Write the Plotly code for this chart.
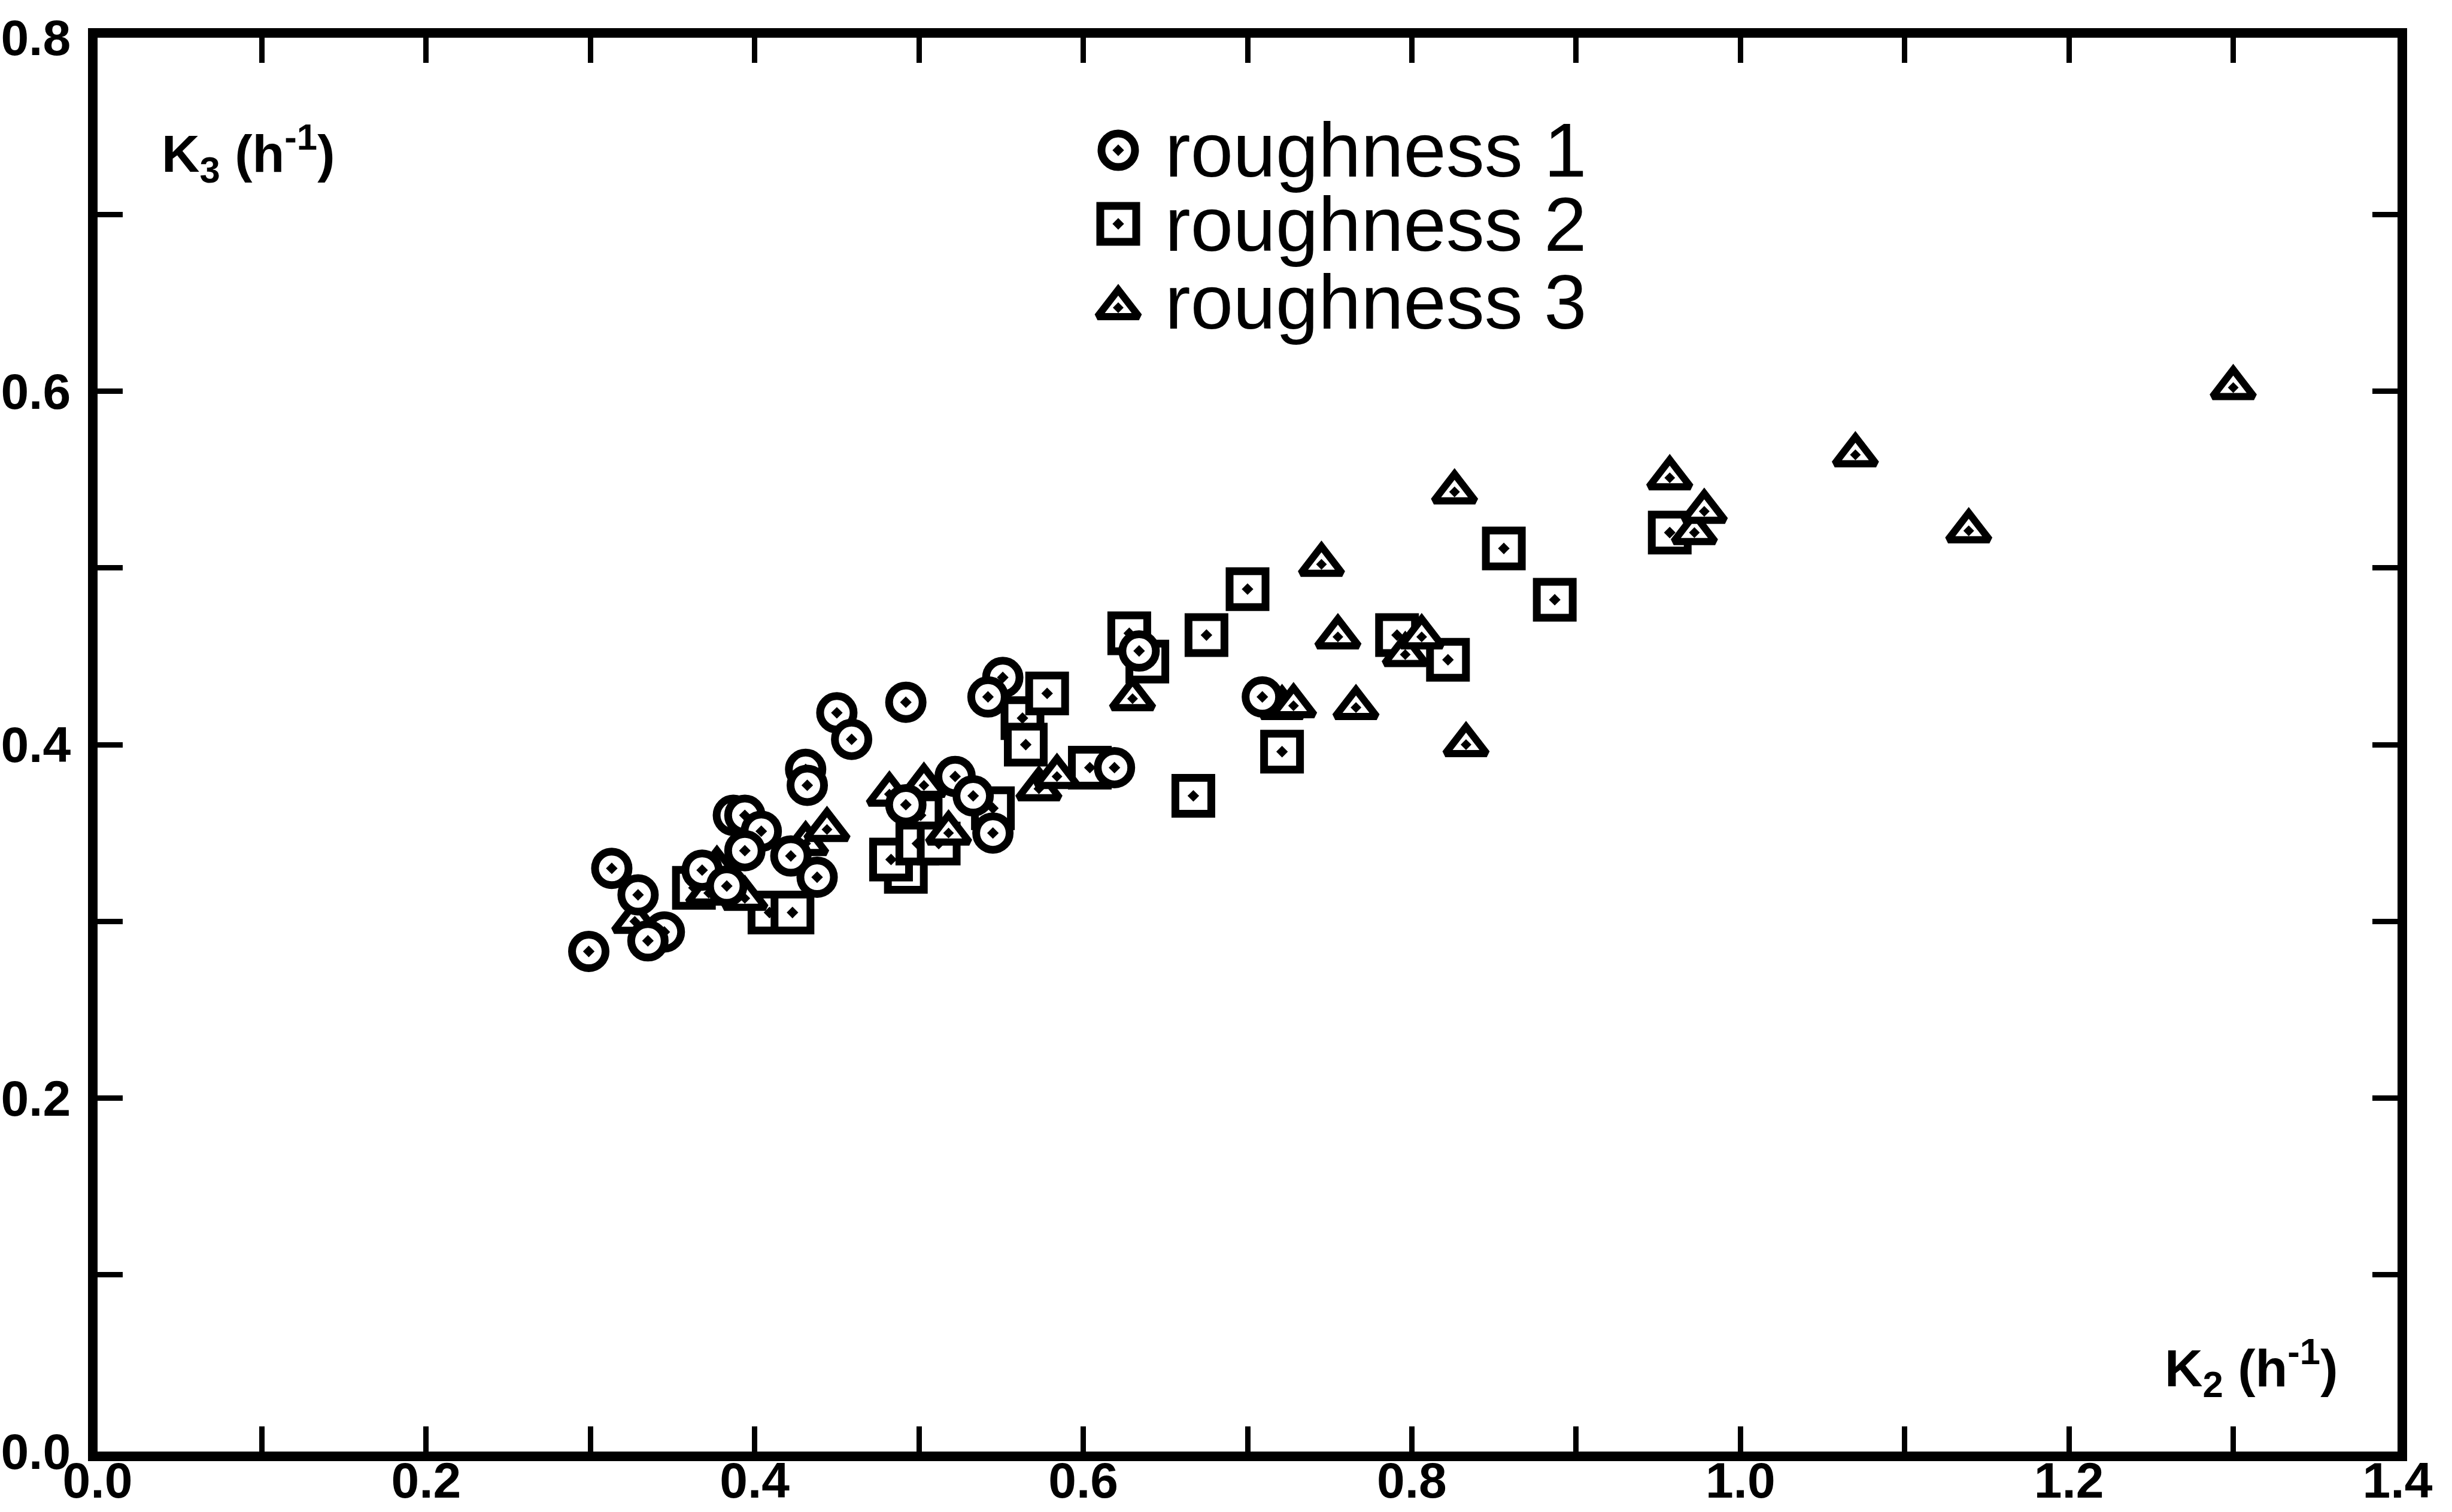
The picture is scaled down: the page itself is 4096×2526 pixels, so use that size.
import plotly.graph_objects as go

# ---------------- data ----------------
series_names = ["roughness 1", "roughness 2", "roughness 3"]

k2_r1 = [0.299, 0.313, 0.329, 0.345, 0.335, 0.368, 0.383, 0.387, 0.394, 0.404,
         0.394, 0.422, 0.438, 0.431, 0.432, 0.450, 0.459, 0.492, 0.492, 0.522,
         0.533, 0.545, 0.551, 0.542, 0.619, 0.634, 0.709]
k3_r1 = [0.283, 0.330, 0.315, 0.294, 0.289, 0.329, 0.320, 0.360, 0.360, 0.351,
         0.340, 0.337, 0.325, 0.386, 0.377, 0.418, 0.403, 0.424, 0.366, 0.382,
         0.371, 0.350, 0.438, 0.427, 0.387, 0.453, 0.427]

k2_r2 = [0.363, 0.409, 0.423, 0.492, 0.483, 0.501, 0.499, 0.512, 0.545, 0.563,
         0.565, 0.578, 0.604, 0.628, 0.639, 0.667, 0.675, 0.700, 0.721, 0.791,
         0.822, 0.856, 0.887, 0.957]
k3_r2 = [0.319, 0.305, 0.305, 0.328, 0.335, 0.360, 0.344, 0.344, 0.364, 0.415,
         0.400, 0.429, 0.387, 0.463, 0.447, 0.371, 0.462, 0.488, 0.396, 0.462,
         0.448, 0.511, 0.482, 0.520]

k2_r3 = [0.327, 0.372, 0.377, 0.394, 0.431, 0.444, 0.482, 0.503, 0.518, 0.573,
         0.584, 0.630, 0.721, 0.728, 0.745, 0.755, 0.766, 0.796, 0.806, 0.826,
         0.833, 0.957, 0.972, 0.978, 1.070, 1.139, 1.300]
k3_r3 = [0.300, 0.316, 0.330, 0.313, 0.344, 0.352, 0.372, 0.377, 0.350, 0.375,
         0.382, 0.426, 0.421, 0.422, 0.502, 0.461, 0.421, 0.451, 0.461, 0.543,
         0.400, 0.551, 0.520, 0.532, 0.564, 0.521, 0.602]

x_major_vals = [0.0, 0.2, 0.4, 0.6, 0.8, 1.0, 1.2, 1.4]
x_major_text = ["0.0", "0.2", "0.4", "0.6", "0.8", "1.0", "1.2", "1.4"]
x_minor_vals = [0.1, 0.3, 0.5, 0.7, 0.9, 1.1, 1.3]
y_major_vals = [0.0, 0.2, 0.4, 0.6, 0.8]
y_major_text = ["0.0", "0.2", "0.4", "0.6", "0.8"]
y_minor_vals = [0.1, 0.3, 0.5, 0.7]

x_title = "K<sub>2</sub> (h<sup>-1</sup>)"
y_title = "K<sub>3</sub> (h<sup>-1</sup>)"

# ---------------- styling ----------------
W, H = 4096, 2526
ML, MR, MT, MB = 163, 91, 63, 101
TICK_FONT = dict(family="Liberation Sans, Arial", size=84, color="black", weight="bold")
LABEL_FONT = dict(family="Liberation Sans, Arial", size=88, color="black", weight="bold")
LEGEND_FONT = dict(family="Liberation Sans, Arial, Helvetica", size=128, color="black")

styles = {
    "roughness 1": dict(symbol="circle-dot", size=56, lw=13),
    "roughness 2": dict(symbol="square-dot", size=60, lw=13),
    "roughness 3": dict(symbol="triangle-up-dot", size=60, lw=12),
}

def marker(name):
    s = styles[name]
    return dict(symbol=s["symbol"], size=s["size"], color="white",
                line=dict(color="black", width=s["lw"]))

fig = go.Figure()
# draw order: squares, triangles, circles (circles lie on top in the reference)
fig.add_trace(go.Scatter(x=k2_r2, y=k3_r2, mode="markers", name=series_names[1],
                         marker=marker(series_names[1]), showlegend=False, cliponaxis=False))
fig.add_trace(go.Scatter(x=k2_r3, y=k3_r3, mode="markers", name=series_names[2],
                         marker=marker(series_names[2]), showlegend=False, cliponaxis=False))
fig.add_trace(go.Scatter(x=k2_r1, y=k3_r1, mode="markers", name=series_names[0],
                         marker=marker(series_names[0]), showlegend=False, cliponaxis=False))

# ---------------- hand-made legend (overlay axes spanning the frame) ----------------
def py(px):  # pixel row -> paper fraction
    return (H - MB - px) / (H - MB - MT)

def pxx(px):  # pixel column -> paper fraction
    return (px - ML) / (W - ML - MR)

legend_key_x = pxx(1868)
legend_rows = [py(251), py(374), py(514)]
legend_text_rows = [py(251), py(374), py(504)]
for i, name in enumerate(series_names):
    fig.add_trace(go.Scatter(x=[legend_key_x], y=[legend_rows[i]], mode="markers",
                             marker=marker(name), xaxis="x2", yaxis="y2",
                             showlegend=False, cliponaxis=False, hoverinfo="skip"))
    fig.add_annotation(x=pxx(1944), y=legend_text_rows[i], xref="paper", yref="paper",
                       text=name, showarrow=False, xanchor="left", yanchor="middle",
                       font=LEGEND_FONT)

# axis titles, written inside the frame as in the reference
fig.add_annotation(x=pxx(268), y=py(256), xref="paper", yref="paper", text=y_title,
                   showarrow=False, xanchor="left", yanchor="middle", font=LABEL_FONT)
fig.add_annotation(x=pxx(3614), y=py(2285), xref="paper", yref="paper", text=x_title,
                   showarrow=False, xanchor="left", yanchor="middle", font=LABEL_FONT)

axis_common = dict(showline=True, linewidth=16, linecolor="black", mirror="ticks",
                   ticks="inside", ticklen=42, tickwidth=9, tickcolor="black",
                   showgrid=False, zeroline=False, tickfont=TICK_FONT, tickmode="array",
                   automargin=False)
minor_common = dict(ticks="inside", ticklen=42, tickwidth=9, tickcolor="black",
                    showgrid=False, tickmode="array")

fig.update_layout(
    width=W, height=H,
    margin=dict(l=ML, r=MR, t=MT, b=MB, pad=0, autoexpand=False),
    paper_bgcolor="white", plot_bgcolor="white",
    xaxis=dict(range=[0, 1.4], tickvals=x_major_vals, ticktext=x_major_text,
               ticklabelstandoff=-40, minor=dict(tickvals=x_minor_vals, **minor_common),
               **axis_common),
    yaxis=dict(range=[0, 0.8], tickvals=y_major_vals, ticktext=y_major_text,
               ticklabelstandoff=12, minor=dict(tickvals=y_minor_vals, **minor_common),
               **axis_common),
    xaxis2=dict(overlaying="x", anchor="y2", range=[0, 1], visible=False, fixedrange=True),
    yaxis2=dict(overlaying="y", anchor="x2", range=[0, 1], visible=False, fixedrange=True),
    showlegend=False,
)

fig.write_html("out.html")
